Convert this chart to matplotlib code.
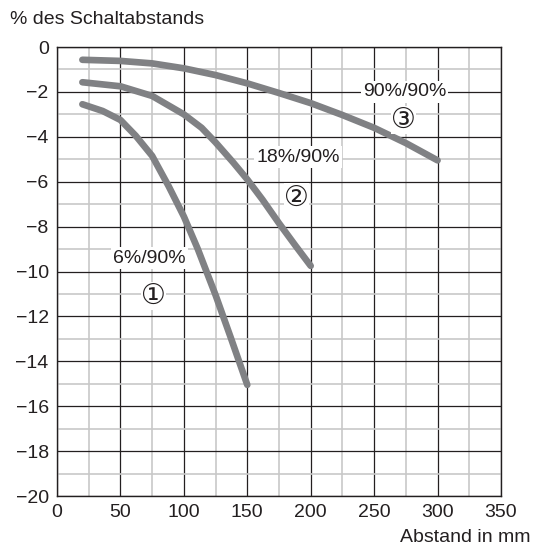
import matplotlib
matplotlib.use("Agg")
import matplotlib.pyplot as plt
from matplotlib.ticker import MultipleLocator

plt.rcParams['font.family'] = ['Liberation Sans', 'DejaVu Sans']

x1 = [20, 36, 50, 62, 75, 88, 100, 111, 125, 137, 150]
y1 = [-2.55, -2.85, -3.25, -3.95, -4.85, -6.2, -7.55, -9.0, -11.05, -12.95, -15.05]
x2 = [20, 50, 75, 100, 114, 125, 139, 150, 162, 175, 188, 200]
y2 = [-1.57, -1.75, -2.18, -3.0, -3.6, -4.25, -5.15, -5.9, -6.8, -7.85, -8.85, -9.75]
x3 = [20, 50, 75, 100, 125, 150, 175, 200, 225, 250, 275, 300]
y3 = [-0.57, -0.62, -0.73, -0.95, -1.25, -1.62, -2.05, -2.5, -3.03, -3.6, -4.28, -5.05]

labels = ['6%/90%', '18%/90%', '90%/90%']
label_pos = [(73, -9.4), (190, -4.9), (274, -2.0)]
marks = ['①', '②', '③']
mark_pos = [(76, -11.1), (189, -6.7), (273, -3.25)]

txt = '#231f20'
fig = plt.figure(figsize=(5.34, 5.48), dpi=100)
ax = fig.add_axes([57 / 534, 52 / 548, 444 / 534, 449 / 548])

ax.set_xlim(0, 350)
ax.set_ylim(-20, 0)
ax.xaxis.set_major_locator(MultipleLocator(50))
ax.xaxis.set_minor_locator(MultipleLocator(25))
ax.yaxis.set_major_locator(MultipleLocator(2))
ax.yaxis.set_minor_locator(MultipleLocator(1))
ax.grid(which='minor', color='#c8c8c8', lw=1.2, zorder=0)
ax.grid(which='major', color='#231f20', lw=0.9, zorder=1)
ax.set_axisbelow(True)
ax.tick_params(which='both', length=0, labelsize=14, labelcolor=txt, pad=6)
for s in ax.spines.values():
    s.set_color('#231f20')
    s.set_linewidth(1.0)

for xs, ys in [(x1, y1), (x2, y2), (x3, y3)]:
    ax.plot(xs, ys, color='#808184', lw=4.8, solid_capstyle='round',
            solid_joinstyle='round', zorder=3)

for lab, (lx, ly) in zip(labels, label_pos):
    ax.text(lx, ly, lab, ha='center', va='center', fontsize=14, color=txt,
            bbox=dict(facecolor='white', edgecolor='none', pad=1.5), zorder=4)
for m, (mx, my) in zip(marks, mark_pos):
    ax.text(mx, my, m, ha='center', va='center', fontsize=20, color=txt,
            family=['DejaVu Sans'], zorder=4,
            bbox=dict(facecolor='white', edgecolor='none', pad=0.3))

fig.text(10 / 534, 1 - 20 / 548, '% des Schaltabstands', ha='left', va='center',
         fontsize=14, color=txt)
fig.text(531 / 534, 1 - 537 / 548, 'Abstand in mm', ha='right', va='center',
         fontsize=14, color=txt)

fig.savefig('out.png', dpi=100)
